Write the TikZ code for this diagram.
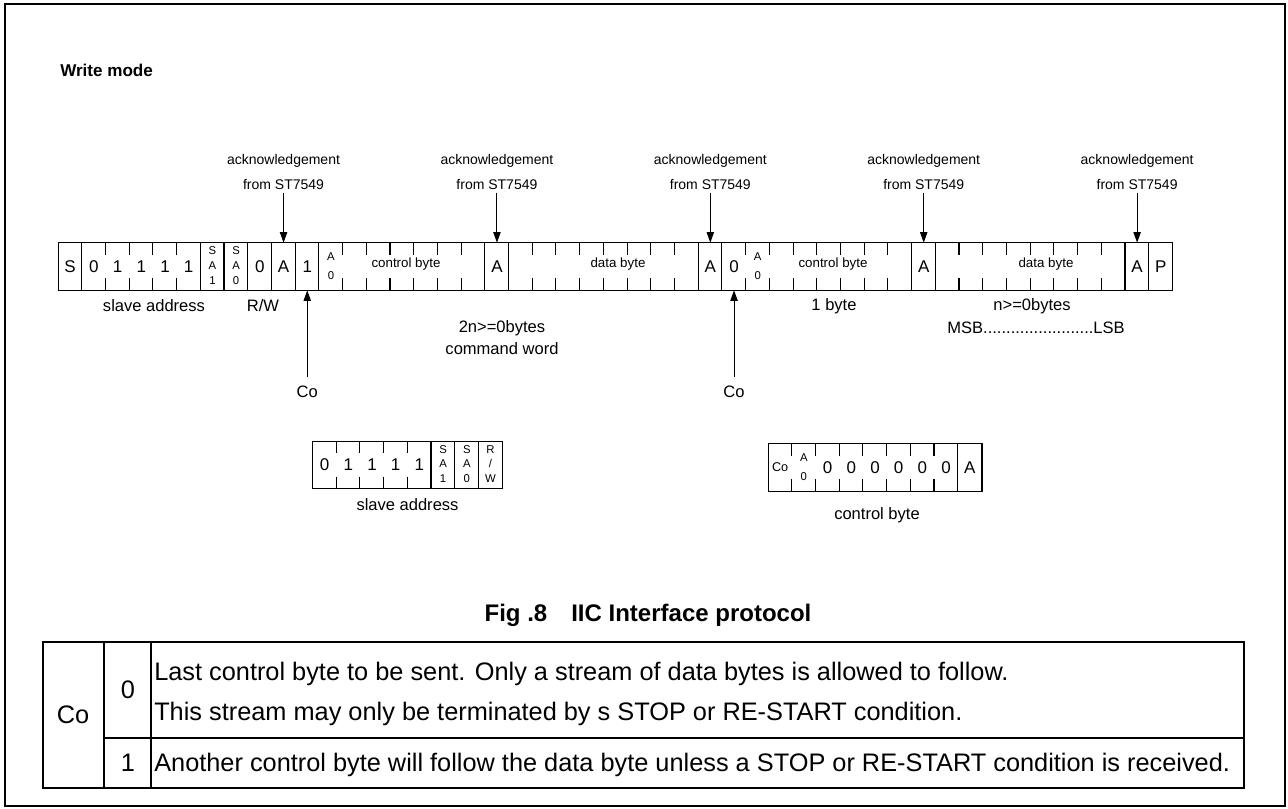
\documentclass[tikz,border=0pt]{standalone}
\usepackage{fontspec}
\setmainfont{Liberation Sans}
\usetikzlibrary{arrows.meta, positioning, calc}

% letters stacked in one narrow cell
\newcommand{\stk}[3]{{\fontsize{8.5}{11}\selectfont\begin{tabular}{@{}c@{}}#1\\#2\\#3\end{tabular}}}
\newcommand{\two}[2]{{\fontsize{8.5}{14}\selectfont\begin{tabular}{@{}c@{}}#1\\#2\end{tabular}}}

\begin{document}
\begin{tikzpicture}[
    x=0.75pt, y=-0.75pt,
    cell/.style={minimum width=17.78pt, minimum height=35.25pt, inner sep=0pt, font=\fontsize{12.75}{15}\selectfont},
    inlbl/.style={inner sep=0pt, font=\fontsize{10}{12}\selectfont},
    lbl/.style={inner sep=0pt, font=\fontsize{12.4}{16.5}\selectfont, align=center},
    ack/.style={inner sep=2pt, font=\fontsize{10.5}{18.75}\selectfont, align=center},
    tbl/.style={inner sep=0pt, font=\fontsize{19}{22}\selectfont},
    rowline/.style={line width=0.8pt},
    tbline/.style={line width=1.5pt},
    >={Triangle[length=8pt, width=5.5pt]}]
  \useasboundingbox (0,0) rectangle (1288,809);
  \draw[line width=1.5pt] (5,4) rectangle (1285,806);

  \node[anchor=west, inner sep=0pt, font=\fontsize{12.8}{15}\selectfont\bfseries] (mode) at (60,70) {Write mode};

  % main frame of the transfer
  \foreach \txt [count=\i from 0] in {S,0,1,1,1,1,{\stk{S}{A}{1}},{\stk{S}{A}{0}},0,A,1,{\two{A}{0}},
      {},{},{},{},{},{},A,{},{},{},{},{},{},{},{},A,0,{\two{A}{0}},{},{},{},{},{},{},A,
      {},{},{},{},{},{},{},{},A,P}
    \node[cell] (c\i) at ({58.3+23.71*\i+11.855},266.5) {\txt};
  \draw[rowline] (c0.north west) rectangle (c46.south east);
  \foreach \i in {1,6,7,8,9,10,11,18,19,27,28,36,37,45,46}
    \draw[rowline] (c\i.north west) -- (c\i.south west);
  \foreach \i in {2,3,4,5,12,13,14,15,16,17,20,21,22,23,24,25,26,29,30,31,32,33,34,35,38,39,40,41,42,43,44}
    {\draw[rowline] (c\i.north west) -- ++(0,12);
     \draw[rowline] (c\i.south west) -- ++(0,-12);}

  \node[inlbl] (cb1) at (406,264) {control byte};
  \node[inlbl] (db1) at (618,264) {data byte};
  \node[inlbl] (cb2) at (833,264) {control byte};
  \node[inlbl] (db2) at (1046,264) {data byte};

  % acknowledgements
  \foreach \a/\n in {c9/1, c18/2, c27/3, c36/4, c45/5}
    {\node[ack, above=37.5pt of \a] (ack\n) {acknowledgement\\from ST7549};
     \draw[->, rowline] (ack\n) -- (\a);}

  % Co bits
  \node[lbl, below=71.25pt of c10] (co1) {Co};
  \node[lbl, below=71.25pt of c28] (co2) {Co};
  \draw[->, rowline] ([yshift=6pt]co1.north) -- (c10.south);
  \draw[->, rowline] ([yshift=6pt]co2.north) -- (c28.south);

  \node[lbl] (sa) at (154,306) {slave address};
  \node[lbl] (rw) at (263,306) {R/W};
  \node[lbl] (cw) at (502,338) {2n>=0bytes\\command word};
  \node[lbl] (one) at (834,306) {1 byte};
  \node[lbl] (nb) at (1032,306) {n>=0bytes};
  \node[lbl] (msb) at (1036,328) {MSB........................LSB};

  % slave address
  \foreach \txt [count=\i from 0] in {0,1,1,1,1,{\stk{S}{A}{1}},{\stk{S}{A}{0}},{\stk{R}{/}{W}}}
    \node[cell] (s\i) at ({312.7+23.71*\i+11.855},465) {\txt};
  \draw[rowline] (s0.north west) rectangle (s7.south east);
  \foreach \i in {5,6,7}
    \draw[rowline] (s\i.north west) -- (s\i.south west);
  \foreach \i in {1,2,3,4}
    {\draw[rowline] (s\i.north west) -- ++(0,12);
     \draw[rowline] (s\i.south west) -- ++(0,-12);}
  \node[lbl] (sa2) at (407.5,505) {slave address};

  % control byte
  \foreach \txt [count=\i from 0] in {{\fontsize{9.5}{11}\selectfont Co},{\two{A}{0}},0,0,0,0,0,0,A}
    \node[cell] (k\i) at ({768.3+23.71*\i+11.855},467.5) {\txt};
  \draw[rowline] (k0.north west) rectangle (k8.south east);
  \draw[rowline] (k8.north west) -- (k8.south west);
  \foreach \i in {1,...,7}
    {\draw[rowline] (k\i.north west) -- ++(0,12);
     \draw[rowline] (k\i.south west) -- ++(0,-12);}
  \node[lbl] (cb3) at (877,515) {control byte};

  \node[inner sep=0pt, font=\fontsize{18}{20}\selectfont\bfseries] (fig) at (648,615) {Fig .8\hspace{18pt}IIC Interface protocol};

  % Co table
  \draw[tbline] (43,642) rectangle (1244,788);
  \draw[tbline] (104,642) -- (104,788);
  \draw[tbline] (151,642) -- (151,788);
  \draw[tbline] (104,738) -- (1244,738);
  \node[tbl] (tco) at (73,715) {Co};
  \node[tbl] (t0) at (128,690) {0};
  \node[tbl] (t1) at (128,763) {1};
  \node[tbl, anchor=base west] (l1) at (154,680) {Last control byte to be sent. Only a stream of data bytes is allowed to follow.};
  \node[tbl, anchor=base west] (l2) at (154,720) {This stream may only be terminated by s STOP or RE-START condition.};
  \node[tbl, anchor=base west] (l3) at (154,771) {Another control byte will follow the data byte unless a STOP or RE-START condition is received.};
\end{tikzpicture}
\end{document}
